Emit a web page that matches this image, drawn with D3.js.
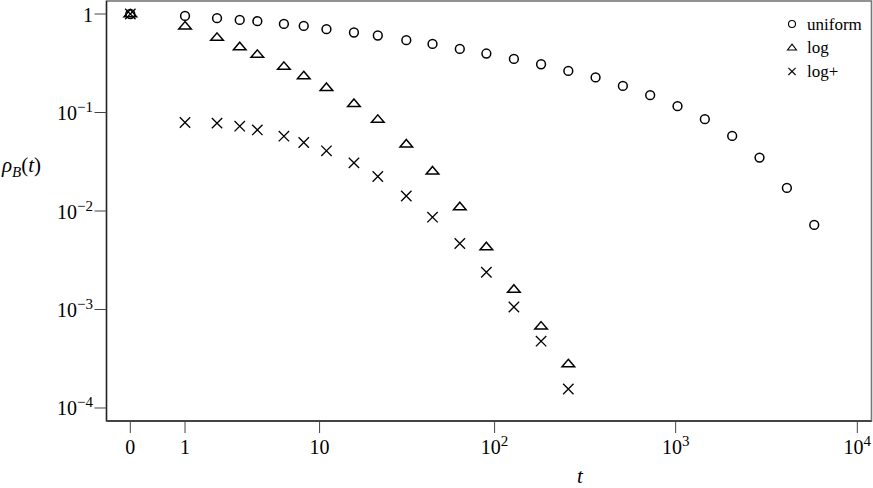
<!DOCTYPE html>
<html>
<head>
<meta charset="utf-8">
<script src="https://cdn.jsdelivr.net/npm/d3@7"></script>
<style>
  body { margin: 0; background: #fff; }
  text { font-family: "Liberation Serif", "Times New Roman", serif; fill: #000; }
</style>
</head>
<body>
<script>
const width = 873;
const height = 488;

// time steps (x) and the three series
const tValues = [0, 1, 2, 3, 4, 6, 8, 11, 16, 22, 32, 45, 64, 90, 128, 181, 256,
                 362, 512, 724, 1024, 1448, 2048, 2896, 4096, 5793];
const uniform = [1, 0.957, 0.906, 0.871, 0.845, 0.793, 0.757, 0.701, 0.649, 0.605, 0.542,
                 0.497, 0.442, 0.397, 0.350, 0.309, 0.264, 0.227, 0.186, 0.150, 0.116,
                 0.0855, 0.0579, 0.0349, 0.01716, 0.00722];
const logSeries = [1, 0.752, 0.577, 0.464, 0.388, 0.293, 0.235, 0.179, 0.123, 0.0849, 0.0477,
                   0.0254, 0.0110, 0.00432, 0.00160, 0.000676, 0.000280];
const logPlus = [1, 0.0791, 0.078, 0.0726, 0.0666, 0.0575, 0.0496, 0.0408, 0.0308, 0.0224,
                 0.0142, 0.00865, 0.00468, 0.00239, 0.00106, 0.000477, 0.000156];

const xTicks = [0, 1, 10, 100, 1000, 10000];
const yTicks = [1, 1e-1, 1e-2, 1e-3, 1e-4];
const legendLabels = ["uniform", "log", "log+"];

const plot = {left: 106.5, right: 871.5, top: 1, bottom: 421};

const x = d3.scaleSymlog().constant(1)
    .domain([-0.352, 11967])
    .range([plot.left, plot.right]);
const y = d3.scaleLog()
    .domain([Math.pow(10, -4.132), Math.pow(10, 0.132)])
    .range([plot.bottom, plot.top]);

const svg = d3.select("body").append("svg")
    .attr("width", width)
    .attr("height", height);

// frame
svg.append("rect")
    .attr("x", plot.left).attr("y", plot.top)
    .attr("width", plot.right - plot.left).attr("height", plot.bottom - plot.top)
    .attr("fill", "none").attr("stroke", "#777").attr("stroke-width", 1.6);
svg.append("line")
    .attr("x1", plot.left).attr("x2", plot.left)
    .attr("y1", plot.top).attr("y2", plot.bottom)
    .attr("stroke", "#222").attr("stroke-width", 1.3);
svg.append("line")
    .attr("x1", plot.left).attr("x2", plot.right)
    .attr("y1", plot.bottom).attr("y2", plot.bottom)
    .attr("stroke", "#444").attr("stroke-width", 1.8);

// power-of-ten label with a superscript
function powLabel(sel, v) {
    const e = Math.round(Math.log10(v));
    if (v === 0 || e === 0) { sel.text(String(v)); return; }
    if (e === 1) { sel.text("10"); return; }
    sel.append("tspan").text("10");
    sel.append("tspan").attr("dy", -8).attr("font-size", 15)
        .text(e < 0 ? "\u2212" + (-e) : String(e));
}

// x axis
const xg = svg.append("g");
xg.selectAll("line").data(xTicks).join("line")
    .attr("x1", d => x(d)).attr("x2", d => x(d))
    .attr("y1", plot.bottom).attr("y2", plot.bottom + 12)
    .attr("stroke", "#444").attr("stroke-width", 1);
xg.selectAll("text").data(xTicks).join("text")
    .attr("x", d => x(d)).attr("y", 454)
    .attr("text-anchor", "middle").attr("font-size", 20)
    .each(function(d) { powLabel(d3.select(this), d); });

// y axis
const yg = svg.append("g");
yg.selectAll("line").data(yTicks).join("line")
    .attr("x1", plot.left - 12).attr("x2", plot.left)
    .attr("y1", d => y(d)).attr("y2", d => y(d))
    .attr("stroke", "#444").attr("stroke-width", 1);
yg.selectAll("text").data(yTicks).join("text")
    .attr("x", 93).attr("y", d => y(d) + 7.5)
    .attr("text-anchor", "end").attr("font-size", 20)
    .each(function(d) { powLabel(d3.select(this), d); });

// axis titles
svg.append("text").attr("x", 580).attr("y", 483)
    .attr("text-anchor", "middle").attr("font-size", 21)
    .attr("font-style", "italic").text("t");
const yt = svg.append("text").attr("x", 2).attr("y", 172).attr("font-size", 21);
yt.append("tspan").attr("font-style", "italic").text("\u03c1");
yt.append("tspan").attr("font-style", "italic").attr("font-size", 15).attr("dy", 5).text("B");
yt.append("tspan").attr("dy", -5).text("(");
yt.append("tspan").attr("font-style", "italic").text("t");
yt.append("tspan").text(")");

// marker shapes
const triangle = {
    draw(ctx, r) {
        const h = r * Math.sqrt(3) / 2;
        ctx.moveTo(0, -h * 2 / 3 - 1);
        ctx.lineTo(r, h / 3 + 1);
        ctx.lineTo(-r, h / 3 + 1);
        ctx.closePath();
    }
};
const cross = {
    draw(ctx, r) {
        ctx.moveTo(-r, -r); ctx.lineTo(r, r);
        ctx.moveTo(r, -r); ctx.lineTo(-r, r);
    }
};

const marks = svg.append("g").attr("fill", "none").attr("stroke", "#000");

marks.selectAll("circle.uniform").data(d3.zip(tValues, uniform)).join("circle")
    .attr("class", "uniform")
    .attr("cx", d => x(d[0])).attr("cy", d => y(d[1]))
    .attr("r", 4.4).attr("stroke-width", 1.5);

marks.selectAll("path.log").data(d3.zip(tValues, logSeries)).join("path")
    .attr("class", "log")
    .attr("transform", d => `translate(${x(d[0])},${y(d[1])})`)
    .attr("d", d3.symbol(triangle, 6.3))
    .attr("stroke-width", 1.5);

marks.selectAll("path.logplus").data(d3.zip(tValues, logPlus)).join("path")
    .attr("class", "logplus")
    .attr("transform", d => `translate(${x(d[0])},${y(d[1])})`)
    .attr("d", d3.symbol(cross, 5.2))
    .attr("stroke-width", 1.3);

// legend
const legend = svg.append("g");
const rows = legend.selectAll("g").data(legendLabels).join("g")
    .attr("transform", (d, i) => `translate(792,${24 + i * 23.7})`);
rows.filter((d, i) => i === 0).append("circle")
    .attr("r", 3.5).attr("fill", "none").attr("stroke", "#000").attr("stroke-width", 1.1);
rows.filter((d, i) => i === 1).append("path")
    .attr("d", d3.symbol(triangle, 4.5))
    .attr("fill", "none").attr("stroke", "#000").attr("stroke-width", 1.1);
rows.filter((d, i) => i === 2).append("path")
    .attr("d", d3.symbol(cross, 3.6))
    .attr("fill", "none").attr("stroke", "#000").attr("stroke-width", 1.1);
rows.append("text")
    .attr("x", 15).attr("y", 5.5)
    .attr("font-size", 17)
    .text(d => d);
</script>
</body>
</html>
